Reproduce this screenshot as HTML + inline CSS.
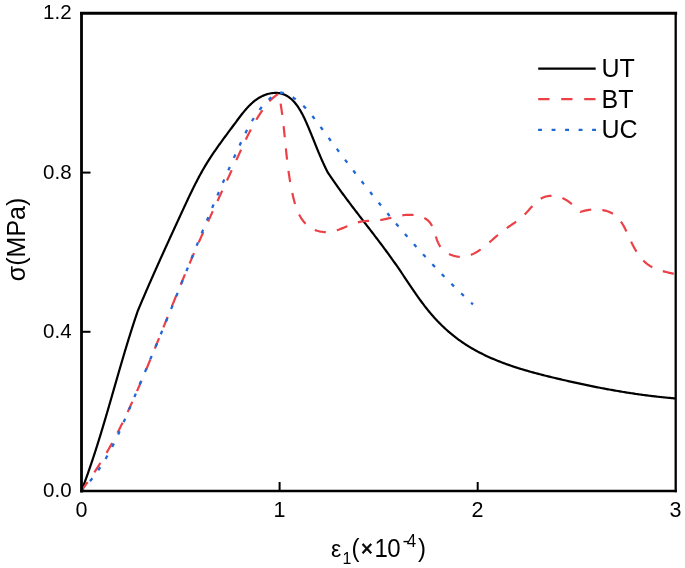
<!DOCTYPE html>
<html><head><meta charset="utf-8"><style>html,body{margin:0;padding:0;background:#fff;overflow:hidden}svg{display:block}</style></head>
<body><svg width="685" height="568" viewBox="0 0 685 568">
<rect width="685" height="568" fill="#fff"/>
<g fill="none" stroke-linejoin="round">
<path d="M81.60,490.50 L82.03,489.37 L82.46,488.25 L82.88,487.12 L83.31,485.99 L83.73,484.86 L84.15,483.73 L84.57,482.60 L84.98,481.47 L85.39,480.33 L85.81,479.20 L86.22,478.06 L86.62,476.93 L87.03,475.79 L87.43,474.65 L87.84,473.51 L88.24,472.37 L88.64,471.23 L89.03,470.09 L89.43,468.95 L89.82,467.81 L90.21,466.67 L90.60,465.52 L90.99,464.38 L91.38,463.23 L91.77,462.09 L92.15,460.94 L92.53,459.79 L92.91,458.64 L93.29,457.49 L93.67,456.34 L94.05,455.19 L94.42,454.04 L94.80,452.89 L95.17,451.74 L95.54,450.59 L95.91,449.43 L96.28,448.28 L96.65,447.13 L97.01,445.97 L97.38,444.82 L97.74,443.66 L98.10,442.50 L98.46,441.35 L98.83,440.19 L99.18,439.03 L99.54,437.87 L99.90,436.71 L100.26,435.55 L100.61,434.39 L100.97,433.23 L101.32,432.07 L101.67,430.91 L102.02,429.75 L102.37,428.59 L102.72,427.43 L103.07,426.26 L103.42,425.10 L103.77,423.94 L104.11,422.77 L104.46,421.61 L104.81,420.44 L105.15,419.28 L105.49,418.11 L105.84,416.95 L106.18,415.78 L106.52,414.62 L106.86,413.45 L107.21,412.28 L107.55,411.12 L107.89,409.95 L108.23,408.78 L108.57,407.62 L108.90,406.45 L109.24,405.28 L109.58,404.11 L109.92,402.94 L110.26,401.78 L110.59,400.61 L110.93,399.44 L111.27,398.27 L111.61,397.10 L111.94,395.93 L112.28,394.77 L112.61,393.60 L112.95,392.43 L113.29,391.26 L113.62,390.09 L113.96,388.92 L114.29,387.75 L114.63,386.58 L114.97,385.41 L115.30,384.24 L115.64,383.08 L115.98,381.91 L116.31,380.74 L116.65,379.57 L116.99,378.40 L117.32,377.23 L117.66,376.06 L118.00,374.89 L118.34,373.73 L118.67,372.56 L119.01,371.39 L119.35,370.22 L119.69,369.05 L120.03,367.89 L120.37,366.72 L120.71,365.55 L121.05,364.38 L121.39,363.22 L121.74,362.05 L122.08,360.88 L122.42,359.72 L122.77,358.55 L123.11,357.39 L123.46,356.22 L123.80,355.05 L124.15,353.89 L124.50,352.73 L124.84,351.56 L125.19,350.40 L125.54,349.23 L125.89,348.07 L126.25,346.91 L126.60,345.75 L126.95,344.58 L127.31,343.42 L127.66,342.26 L128.02,341.10 L128.37,339.94 L128.73,338.78 L129.09,337.62 L129.45,336.46 L129.81,335.30 L130.18,334.14 L130.54,332.99 L130.90,331.83 L131.27,330.67 L131.64,329.52 L132.01,328.36 L132.38,327.21 L132.75,326.05 L133.12,324.90 L133.49,323.74 L133.87,322.59 L134.25,321.44 L134.62,320.29 L135.00,319.14 L135.38,317.99 L135.77,316.84 L136.15,315.69 L136.54,314.54 L136.92,313.39 L137.31,312.25 L137.70,311.10 L138.17,309.98 L138.64,308.86 L139.11,307.74 L139.58,306.62 L140.06,305.50 L140.53,304.38 L141.00,303.26 L141.48,302.15 L141.95,301.03 L142.42,299.92 L142.90,298.81 L143.38,297.70 L143.85,296.58 L144.33,295.47 L144.81,294.36 L145.28,293.26 L145.76,292.15 L146.24,291.04 L146.72,289.93 L147.20,288.83 L147.68,287.72 L148.16,286.62 L148.64,285.51 L149.13,284.41 L149.61,283.31 L150.09,282.21 L150.58,281.10 L151.06,280.00 L151.54,278.90 L152.03,277.80 L152.51,276.70 L153.00,275.61 L153.49,274.51 L153.97,273.41 L154.46,272.31 L154.95,271.21 L155.44,270.12 L155.92,269.02 L156.41,267.93 L156.90,266.83 L157.39,265.73 L157.88,264.64 L158.37,263.54 L158.87,262.45 L159.36,261.36 L159.85,260.26 L160.34,259.17 L160.84,258.07 L161.33,256.98 L161.82,255.89 L162.32,254.80 L162.81,253.70 L163.31,252.61 L163.80,251.52 L164.30,250.42 L164.80,249.33 L165.29,248.24 L165.79,247.15 L166.29,246.05 L166.79,244.96 L167.28,243.87 L167.78,242.77 L168.28,241.68 L168.78,240.59 L169.28,239.50 L169.78,238.40 L170.28,237.31 L170.78,236.22 L171.29,235.12 L171.79,234.03 L172.29,232.93 L172.79,231.84 L173.30,230.74 L173.80,229.65 L174.30,228.55 L174.81,227.46 L175.31,226.36 L175.82,225.27 L176.32,224.17 L176.83,223.07 L177.33,221.97 L177.84,220.88 L178.35,219.78 L178.85,218.68 L179.36,217.58 L179.87,216.48 L180.38,215.38 L180.88,214.28 L181.39,213.18 L181.90,212.07 L182.41,210.97 L182.92,209.87 L183.43,208.76 L183.94,207.66 L184.45,206.55 L184.97,205.45 L185.48,204.35 L185.99,203.24 L186.51,202.14 L187.02,201.04 L187.54,199.93 L188.06,198.83 L188.58,197.73 L189.10,196.63 L189.63,195.53 L190.15,194.43 L190.68,193.34 L191.21,192.24 L191.74,191.15 L192.27,190.05 L192.81,188.96 L193.34,187.87 L193.88,186.79 L194.43,185.70 L194.97,184.62 L195.52,183.54 L196.07,182.46 L196.63,181.39 L197.18,180.32 L197.74,179.25 L198.30,178.18 L198.87,177.11 L199.44,176.05 L200.01,175.00 L200.59,173.94 L201.17,172.89 L201.75,171.85 L202.34,170.80 L202.93,169.76 L203.53,168.73 L204.13,167.70 L204.73,166.67 L205.34,165.65 L205.95,164.63 L206.57,163.61 L207.19,162.61 L207.82,161.60 L208.45,160.60 L209.08,159.60 L209.72,158.61 L210.37,157.62 L211.01,156.63 L211.66,155.64 L212.32,154.66 L212.98,153.68 L213.64,152.71 L214.30,151.73 L214.97,150.76 L215.65,149.79 L216.32,148.82 L217.00,147.85 L217.68,146.88 L218.37,145.92 L219.06,144.95 L219.75,143.99 L220.45,143.02 L221.14,142.06 L221.84,141.10 L222.55,140.13 L223.25,139.17 L223.96,138.20 L224.67,137.24 L225.39,136.27 L226.10,135.30 L226.82,134.33 L227.54,133.36 L228.27,132.39 L228.99,131.42 L229.72,130.44 L230.45,129.46 L231.18,128.48 L231.91,127.50 L232.64,126.51 L233.38,125.52 L234.12,124.53 L234.86,123.53 L235.60,122.53 L236.34,121.53 L237.08,120.52 L237.83,119.52 L238.58,118.51 L239.34,117.51 L240.10,116.51 L240.86,115.52 L241.63,114.53 L242.41,113.55 L243.19,112.58 L243.98,111.61 L244.78,110.66 L245.59,109.72 L246.41,108.79 L247.23,107.87 L248.07,106.97 L248.91,106.09 L249.77,105.22 L250.64,104.38 L251.52,103.55 L252.41,102.74 L253.32,101.96 L254.24,101.20 L255.17,100.47 L256.12,99.76 L257.09,99.08 L258.07,98.43 L259.06,97.80 L260.08,97.21 L261.11,96.65 L262.16,96.12 L263.23,95.63 L264.31,95.17 L265.42,94.75 L266.54,94.37 L267.68,94.03 L268.83,93.73 L269.98,93.48 L271.15,93.27 L272.31,93.11 L273.48,92.99 L274.64,92.93 L275.80,92.92 L276.96,92.96 L278.10,93.05 L279.23,93.20 L280.35,93.41 L281.45,93.67 L282.54,93.98 L283.60,94.35 L284.64,94.76 L285.65,95.23 L286.64,95.75 L287.61,96.31 L288.55,96.92 L289.47,97.58 L290.36,98.27 L291.24,99.01 L292.09,99.79 L292.92,100.60 L293.74,101.45 L294.53,102.33 L295.30,103.25 L296.05,104.19 L296.79,105.16 L297.51,106.16 L298.21,107.18 L298.89,108.23 L299.56,109.29 L300.22,110.38 L300.86,111.48 L301.48,112.59 L302.09,113.72 L302.69,114.86 L303.27,116.02 L303.85,117.17 L304.41,118.34 L304.96,119.51 L305.50,120.68 L306.03,121.86 L306.55,123.03 L307.06,124.20 L307.56,125.37 L308.06,126.52 L308.54,127.68 L309.02,128.82 L309.50,129.96 L309.97,131.09 L310.43,132.21 L310.89,133.33 L311.34,134.45 L311.79,135.55 L312.24,136.66 L312.68,137.76 L313.12,138.85 L313.56,139.94 L314.00,141.03 L314.43,142.11 L314.87,143.20 L315.30,144.28 L315.73,145.35 L316.17,146.43 L316.60,147.50 L317.04,148.58 L317.48,149.65 L317.92,150.72 L318.36,151.80 L318.81,152.87 L319.26,153.95 L319.71,155.02 L320.17,156.10 L320.63,157.18 L321.10,158.26 L321.58,159.35 L322.06,160.43 L322.55,161.53 L323.04,162.62 L323.55,163.72 L324.06,164.82 L324.58,165.93 L325.10,167.04 L325.64,168.16 L326.19,169.29 L326.75,170.42 L327.32,171.56 L327.90,172.70 L328.58,173.71 L329.26,174.72 L329.94,175.72 L330.62,176.73 L331.31,177.73 L332.00,178.73 L332.69,179.73 L333.38,180.72 L334.07,181.72 L334.77,182.71 L335.47,183.70 L336.16,184.68 L336.87,185.67 L337.57,186.65 L338.27,187.64 L338.98,188.62 L339.69,189.60 L340.40,190.58 L341.11,191.55 L341.82,192.53 L342.53,193.50 L343.25,194.47 L343.96,195.44 L344.68,196.41 L345.40,197.38 L346.12,198.35 L346.84,199.31 L347.56,200.28 L348.28,201.24 L349.01,202.20 L349.73,203.17 L350.46,204.13 L351.18,205.09 L351.91,206.05 L352.64,207.00 L353.37,207.96 L354.10,208.92 L354.83,209.87 L355.56,210.83 L356.29,211.78 L357.02,212.74 L357.75,213.69 L358.49,214.65 L359.22,215.60 L359.95,216.55 L360.69,217.50 L361.42,218.46 L362.15,219.41 L362.89,220.36 L363.62,221.31 L364.36,222.26 L365.09,223.21 L365.82,224.17 L366.56,225.12 L367.29,226.07 L368.03,227.02 L368.76,227.97 L369.49,228.93 L370.23,229.88 L370.96,230.83 L371.69,231.78 L372.42,232.74 L373.16,233.69 L373.89,234.65 L374.62,235.60 L375.35,236.56 L376.08,237.51 L376.80,238.47 L377.53,239.43 L378.26,240.39 L378.98,241.35 L379.71,242.31 L380.43,243.27 L381.16,244.23 L381.88,245.19 L382.60,246.16 L383.32,247.12 L384.04,248.09 L384.76,249.06 L385.48,250.03 L386.19,251.00 L386.91,251.97 L387.62,252.94 L388.33,253.91 L389.04,254.89 L389.75,255.87 L390.45,256.85 L391.16,257.83 L391.86,258.81 L392.57,259.79 L393.27,260.78 L393.96,261.76 L394.66,262.75 L395.36,263.74 L396.05,264.73 L396.74,265.73 L397.43,266.72 L398.12,267.72 L398.80,268.72 L399.49,269.72 L400.17,270.73 L400.85,271.73 L401.53,272.74 L402.21,273.75 L402.88,274.75 L403.56,275.76 L404.24,276.77 L404.91,277.78 L405.59,278.79 L406.27,279.80 L406.94,280.81 L407.62,281.82 L408.30,282.83 L408.97,283.84 L409.65,284.85 L410.33,285.86 L411.01,286.86 L411.69,287.87 L412.37,288.87 L413.06,289.88 L413.74,290.88 L414.43,291.88 L415.12,292.88 L415.81,293.87 L416.51,294.87 L417.21,295.86 L417.91,296.85 L418.61,297.83 L419.31,298.81 L420.02,299.79 L420.74,300.77 L421.45,301.75 L422.17,302.72 L422.89,303.68 L423.62,304.65 L424.35,305.60 L425.09,306.56 L425.83,307.51 L426.58,308.46 L427.33,309.40 L428.08,310.34 L428.84,311.27 L429.61,312.20 L430.38,313.12 L431.15,314.03 L431.94,314.95 L432.73,315.85 L433.52,316.75 L434.32,317.65 L435.13,318.53 L435.94,319.42 L436.76,320.29 L437.58,321.16 L438.42,322.02 L439.25,322.88 L440.10,323.73 L440.95,324.58 L441.80,325.42 L442.66,326.25 L443.53,327.07 L444.40,327.89 L445.28,328.70 L446.16,329.51 L447.05,330.30 L447.95,331.09 L448.85,331.88 L449.76,332.66 L450.67,333.42 L451.59,334.19 L452.51,334.94 L453.44,335.69 L454.38,336.43 L455.32,337.16 L456.27,337.89 L457.22,338.61 L458.18,339.32 L459.14,340.02 L460.11,340.72 L461.08,341.40 L462.06,342.08 L463.04,342.75 L464.03,343.42 L465.02,344.07 L466.02,344.72 L467.03,345.36 L468.04,345.99 L469.05,346.62 L470.07,347.23 L471.09,347.84 L472.12,348.45 L473.15,349.04 L474.19,349.63 L475.23,350.21 L476.28,350.79 L477.33,351.35 L478.38,351.91 L479.44,352.47 L480.50,353.01 L481.57,353.56 L482.64,354.09 L483.72,354.62 L484.79,355.14 L485.88,355.65 L486.96,356.16 L488.05,356.67 L489.15,357.16 L490.24,357.65 L491.34,358.14 L492.45,358.62 L493.55,359.09 L494.66,359.56 L495.78,360.02 L496.89,360.48 L498.01,360.93 L499.13,361.37 L500.26,361.82 L501.39,362.25 L502.52,362.68 L503.65,363.11 L504.79,363.53 L505.93,363.94 L507.07,364.35 L508.21,364.76 L509.36,365.16 L510.51,365.56 L511.66,365.95 L512.81,366.34 L513.96,366.72 L515.12,367.10 L516.28,367.48 L517.44,367.85 L518.60,368.22 L519.76,368.58 L520.93,368.94 L522.10,369.30 L523.27,369.65 L524.44,370.00 L525.61,370.34 L526.78,370.68 L527.95,371.02 L529.13,371.36 L530.31,371.69 L531.48,372.02 L532.66,372.34 L533.84,372.66 L535.02,372.98 L536.20,373.30 L537.38,373.61 L538.57,373.93 L539.75,374.23 L540.93,374.54 L542.11,374.84 L543.30,375.15 L544.48,375.45 L545.67,375.74 L546.85,376.04 L548.04,376.33 L549.22,376.62 L550.41,376.91 L551.59,377.20 L552.78,377.48 L553.96,377.77 L555.14,378.05 L556.33,378.33 L557.51,378.61 L558.69,378.89 L559.88,379.16 L561.06,379.44 L562.24,379.71 L563.42,379.99 L564.60,380.26 L565.78,380.53 L566.96,380.80 L568.13,381.07 L569.31,381.33 L570.49,381.60 L571.67,381.86 L572.84,382.12 L574.02,382.38 L575.19,382.64 L576.37,382.90 L577.55,383.16 L578.72,383.41 L579.89,383.67 L581.07,383.92 L582.24,384.17 L583.42,384.42 L584.59,384.67 L585.77,384.92 L586.94,385.16 L588.11,385.41 L589.29,385.65 L590.46,385.89 L591.63,386.13 L592.81,386.37 L593.98,386.60 L595.15,386.84 L596.33,387.07 L597.50,387.30 L598.67,387.53 L599.85,387.76 L601.02,387.99 L602.20,388.21 L603.37,388.44 L604.54,388.66 L605.72,388.88 L606.89,389.10 L608.07,389.31 L609.25,389.53 L610.42,389.74 L611.60,389.95 L612.77,390.16 L613.95,390.37 L615.13,390.58 L616.31,390.78 L617.48,390.98 L618.66,391.18 L619.84,391.38 L621.02,391.58 L622.20,391.78 L623.38,391.97 L624.56,392.16 L625.75,392.35 L626.93,392.54 L628.11,392.73 L629.30,392.91 L630.48,393.09 L631.67,393.27 L632.85,393.45 L634.04,393.63 L635.23,393.80 L636.42,393.98 L637.60,394.15 L638.80,394.32 L639.99,394.48 L641.18,394.65 L642.37,394.81 L643.56,394.97 L644.76,395.13 L645.95,395.29 L647.15,395.44 L648.35,395.59 L649.55,395.74 L650.75,395.89 L651.95,396.04 L653.15,396.18 L654.35,396.32 L655.56,396.46 L656.76,396.60 L657.97,396.74 L659.18,396.87 L660.39,397.00 L661.60,397.13 L662.81,397.26 L664.02,397.38 L665.24,397.50 L666.45,397.62 L667.67,397.74 L668.89,397.86 L670.11,397.97 L671.33,398.08 L672.55,398.19 L673.78,398.30 L675.00,398.40" stroke="#000" stroke-width="2.2"/>
<path d="M81.60,490.50 L82.30,489.54 L83.00,488.58 L83.70,487.62 L84.40,486.65 L85.09,485.68 L85.79,484.71 L86.48,483.73 L87.17,482.76 L87.86,481.78 L88.55,480.80 L89.23,479.81 L89.91,478.82 L90.60,477.83 L91.28,476.84 L91.95,475.85 L92.63,474.85 L93.30,473.85 L93.97,472.85 L94.64,471.85 L95.31,470.84 L95.97,469.84 L96.63,468.83 L97.29,467.82 L97.94,466.80 L98.60,465.79 L99.25,464.77 L99.89,463.75 L100.54,462.72 L101.18,461.70 L101.82,460.67 L102.45,459.65 L103.08,458.62 L103.71,457.58 L104.34,456.55 L104.96,455.51 L105.58,454.48 L106.19,453.44 L106.80,452.40 L107.41,451.35 L108.01,450.31 L108.61,449.26 L109.21,448.21 L109.81,447.16 L110.40,446.11 L110.98,445.06 L111.57,444.00 L112.15,442.95 L112.72,441.89 L113.30,440.83 L113.87,439.77 L114.44,438.71 L115.00,437.64 L115.56,436.58 L116.12,435.51 L116.68,434.44 L117.23,433.37 L117.78,432.30 L118.33,431.23 L118.87,430.16 L119.42,429.08 L119.96,428.01 L120.49,426.93 L121.03,425.85 L121.56,424.77 L122.09,423.69 L122.62,422.61 L123.14,421.53 L123.67,420.44 L124.19,419.36 L124.71,418.27 L125.22,417.19 L125.74,416.10 L126.25,415.01 L126.76,413.92 L127.27,412.83 L127.78,411.74 L128.28,410.65 L128.79,409.55 L129.29,408.46 L129.79,407.36 L130.29,406.27 L130.78,405.17 L131.28,404.08 L131.77,402.98 L132.27,401.88 L132.76,400.78 L133.25,399.68 L133.74,398.58 L134.22,397.48 L134.71,396.38 L135.19,395.28 L135.68,394.18 L136.16,393.07 L136.64,391.97 L137.12,390.87 L137.60,389.76 L138.08,388.66 L138.56,387.55 L139.04,386.45 L139.51,385.34 L139.99,384.24 L140.46,383.13 L140.93,382.02 L141.41,380.92 L141.88,379.81 L142.35,378.70 L142.82,377.59 L143.29,376.48 L143.76,375.37 L144.22,374.27 L144.69,373.16 L145.16,372.04 L145.62,370.93 L146.08,369.82 L146.55,368.71 L147.01,367.60 L147.47,366.49 L147.94,365.38 L148.40,364.26 L148.86,363.15 L149.32,362.04 L149.78,360.92 L150.23,359.81 L150.69,358.70 L151.15,357.58 L151.61,356.47 L152.06,355.35 L152.52,354.24 L152.98,353.12 L153.43,352.01 L153.89,350.89 L154.34,349.78 L154.79,348.66 L155.25,347.55 L155.70,346.43 L156.15,345.31 L156.61,344.20 L157.06,343.08 L157.51,341.96 L157.96,340.85 L158.42,339.73 L158.87,338.61 L159.32,337.49 L159.77,336.38 L160.22,335.26 L160.67,334.14 L161.12,333.02 L161.57,331.91 L162.02,330.79 L162.47,329.67 L162.92,328.55 L163.37,327.43 L163.82,326.31 L164.27,325.20 L164.72,324.08 L165.17,322.96 L165.62,321.84 L166.07,320.72 L166.52,319.60 L166.97,318.48 L167.42,317.37 L167.87,316.25 L168.32,315.13 L168.77,314.01 L169.22,312.89 L169.67,311.77 L170.12,310.65 L170.57,309.54 L171.02,308.42 L171.47,307.30 L171.93,306.18 L172.38,305.06 L172.83,303.94 L173.28,302.83 L173.74,301.71 L174.19,300.59 L174.64,299.47 L175.10,298.36 L175.55,297.24 L176.01,296.12 L176.46,295.00 L176.92,293.89 L177.37,292.77 L177.83,291.65 L178.29,290.54 L178.74,289.42 L179.20,288.30 L179.66,287.19 L180.12,286.07 L180.58,284.96 L181.04,283.84 L181.50,282.73 L181.96,281.61 L182.42,280.50 L182.89,279.38 L183.35,278.27 L183.82,277.15 L184.28,276.04 L184.75,274.93 L185.21,273.81 L185.68,272.70 L186.15,271.59 L186.62,270.47 L187.09,269.36 L187.56,268.25 L188.03,267.14 L188.50,266.03 L188.97,264.92 L189.45,263.80 L189.92,262.69 L190.39,261.58 L190.87,260.47 L191.35,259.37 L191.82,258.26 L192.30,257.15 L192.78,256.04 L193.26,254.93 L193.74,253.82 L194.22,252.72 L194.70,251.61 L195.19,250.50 L195.67,249.40 L196.15,248.29 L196.64,247.18 L197.12,246.08 L197.61,244.97 L198.09,243.87 L198.58,242.77 L199.07,241.66 L199.56,240.56 L200.05,239.46 L200.54,238.35 L201.03,237.25 L201.52,236.15 L202.01,235.05 L202.50,233.95 L202.99,232.85 L203.48,231.74 L203.98,230.64 L204.47,229.55 L204.96,228.45 L205.46,227.35 L205.95,226.25 L206.45,225.15 L206.95,224.05 L207.44,222.96 L207.94,221.86 L208.44,220.76 L208.93,219.67 L209.43,218.57 L209.93,217.48 L210.43,216.38 L210.93,215.29 L211.43,214.20 L211.93,213.10 L212.43,212.01 L212.93,210.92 L213.43,209.83 L213.94,208.73 L214.44,207.64 L214.94,206.55 L215.44,205.46 L215.95,204.37 L216.45,203.28 L216.95,202.19 L217.46,201.10 L217.96,200.01 L218.46,198.92 L218.97,197.83 L219.47,196.74 L219.98,195.65 L220.48,194.57 L220.99,193.48 L221.49,192.39 L222.00,191.30 L222.50,190.21 L223.01,189.12 L223.51,188.03 L224.02,186.94 L224.52,185.85 L225.03,184.76 L225.53,183.67 L226.04,182.57 L226.54,181.48 L227.05,180.39 L227.55,179.30 L228.06,178.21 L228.56,177.11 L229.07,176.02 L229.57,174.93 L230.08,173.83 L230.58,172.74 L231.09,171.64 L231.59,170.54 L232.09,169.45 L232.60,168.35 L233.10,167.25 L233.61,166.15 L234.11,165.05 L234.61,163.95 L235.11,162.85 L235.62,161.74 L236.12,160.64 L236.62,159.53 L237.12,158.43 L237.62,157.32 L238.12,156.22 L238.62,155.11 L239.13,154.00 L239.63,152.89 L240.13,151.79 L240.64,150.68 L241.14,149.57 L241.65,148.47 L242.16,147.36 L242.67,146.26 L243.18,145.15 L243.69,144.05 L244.21,142.95 L244.73,141.85 L245.25,140.75 L245.77,139.66 L246.30,138.56 L246.83,137.47 L247.36,136.38 L247.90,135.29 L248.44,134.21 L248.98,133.13 L249.53,132.05 L250.08,130.97 L250.64,129.90 L251.20,128.83 L251.77,127.77 L252.34,126.70 L252.91,125.65 L253.50,124.59 L254.08,123.54 L254.67,122.50 L255.27,121.46 L255.88,120.42 L256.49,119.39 L257.10,118.36 L257.73,117.34 L258.36,116.33 L258.99,115.32 L259.63,114.31 L260.29,113.31 L260.94,112.32 L261.61,111.33 L262.28,110.35 L262.96,109.38 L263.65,108.41 L264.35,107.45 L265.06,106.51 L265.78,105.57 L266.52,104.64 L267.27,103.73 L268.03,102.83 L268.81,101.94 L269.61,101.08 L270.43,100.23 L271.26,99.40 L272.12,98.59 L273.00,97.80 L273.90,97.04 L274.83,96.30 L275.78,95.58 L276.76,94.89 L277.76,94.23 L278.80,93.60 L279.04,94.83 L279.28,96.06 L279.51,97.29 L279.73,98.51 L279.95,99.74 L280.16,100.95 L280.37,102.17 L280.57,103.38 L280.77,104.60 L280.96,105.80 L281.14,107.01 L281.32,108.22 L281.50,109.42 L281.67,110.62 L281.84,111.82 L282.01,113.01 L282.17,114.21 L282.33,115.40 L282.48,116.59 L282.63,117.78 L282.78,118.97 L282.92,120.16 L283.06,121.34 L283.20,122.53 L283.34,123.71 L283.47,124.89 L283.60,126.07 L283.73,127.25 L283.85,128.43 L283.98,129.61 L284.10,130.78 L284.23,131.96 L284.35,133.14 L284.47,134.31 L284.58,135.48 L284.70,136.66 L284.82,137.83 L284.94,139.01 L285.05,140.18 L285.17,141.35 L285.28,142.53 L285.40,143.70 L285.52,144.87 L285.63,146.05 L285.75,147.22 L285.87,148.40 L285.99,149.57 L286.11,150.75 L286.23,151.92 L286.35,153.10 L286.48,154.28 L286.60,155.46 L286.73,156.64 L286.86,157.82 L286.99,159.00 L287.13,160.18 L287.27,161.36 L287.40,162.55 L287.55,163.73 L287.69,164.92 L287.84,166.11 L288.00,167.30 L288.15,168.49 L288.31,169.69 L288.47,170.89 L288.64,172.08 L288.81,173.28 L288.99,174.48 L289.17,175.69 L289.35,176.89 L289.54,178.10 L289.74,179.31 L289.94,180.53 L290.14,181.74 L290.35,182.96 L290.57,184.18 L290.79,185.41 L291.02,186.63 L291.25,187.86 L291.49,189.09 L291.74,190.33 L291.99,191.57 L292.25,192.81 L292.52,194.05 L292.79,195.29 L293.08,196.53 L293.37,197.77 L293.68,199.01 L294.00,200.24 L294.33,201.46 L294.68,202.68 L295.03,203.89 L295.41,205.09 L295.80,206.28 L296.20,207.45 L296.62,208.62 L297.06,209.77 L297.52,210.90 L298.00,212.02 L298.50,213.11 L299.02,214.19 L299.56,215.25 L300.13,216.29 L300.72,217.31 L301.33,218.30 L301.96,219.26 L302.63,220.20 L303.32,221.12 L304.03,222.00 L304.78,222.85 L305.55,223.68 L306.36,224.47 L307.19,225.22 L308.05,225.95 L308.95,226.63 L309.88,227.28 L310.84,227.89 L311.83,228.46 L312.85,229.00 L313.90,229.49 L314.97,229.94 L316.05,230.36 L317.16,230.73 L318.29,231.05 L319.43,231.34 L320.58,231.58 L321.74,231.78 L322.91,231.94 L324.09,232.05 L325.26,232.11 L326.45,232.13 L327.63,232.10 L328.80,232.02 L329.98,231.90 L331.14,231.73 L332.31,231.51 L333.46,231.26 L334.61,230.96 L335.76,230.63 L336.90,230.27 L338.04,229.89 L339.18,229.48 L340.31,229.04 L341.44,228.60 L342.58,228.14 L343.71,227.66 L344.84,227.18 L345.97,226.70 L347.11,226.22 L348.24,225.74 L349.38,225.27 L350.52,224.81 L351.66,224.36 L352.81,223.93 L353.97,223.52 L355.12,223.13 L356.29,222.77 L357.46,222.44 L358.63,222.15 L359.82,221.89 L361.01,221.67 L362.21,221.48 L363.41,221.31 L364.61,221.17 L365.82,221.06 L367.04,220.95 L368.25,220.87 L369.47,220.79 L370.68,220.72 L371.90,220.65 L373.11,220.58 L374.32,220.51 L375.53,220.43 L376.74,220.35 L377.94,220.25 L379.14,220.13 L380.33,219.99 L381.52,219.82 L382.69,219.64 L383.87,219.43 L385.03,219.20 L386.20,218.95 L387.36,218.70 L388.51,218.43 L389.67,218.15 L390.82,217.87 L391.98,217.58 L393.13,217.30 L394.29,217.01 L395.45,216.73 L396.61,216.46 L397.78,216.20 L398.95,215.96 L400.13,215.73 L401.32,215.52 L402.51,215.33 L403.71,215.16 L404.92,215.02 L406.14,214.91 L407.37,214.84 L408.61,214.79 L409.87,214.79 L411.13,214.82 L412.40,214.90 L413.66,215.01 L414.93,215.17 L416.18,215.37 L417.43,215.61 L418.65,215.90 L419.86,216.24 L421.03,216.62 L422.18,217.05 L423.29,217.53 L424.36,218.06 L425.39,218.64 L426.37,219.27 L427.30,219.96 L428.17,220.70 L428.98,221.49 L429.72,222.34 L430.41,223.24 L431.04,224.19 L431.62,225.18 L432.15,226.21 L432.65,227.28 L433.11,228.38 L433.55,229.50 L433.96,230.64 L434.35,231.80 L434.73,232.98 L435.11,234.16 L435.48,235.35 L435.86,236.55 L436.24,237.73 L436.64,238.91 L437.06,240.08 L437.51,241.23 L437.99,242.37 L438.50,243.47 L439.05,244.55 L439.65,245.60 L440.30,246.60 L441.00,247.57 L441.77,248.49 L442.59,249.37 L443.46,250.20 L444.38,250.99 L445.34,251.73 L446.34,252.42 L447.38,253.07 L448.45,253.66 L449.54,254.21 L450.66,254.71 L451.80,255.15 L452.96,255.55 L454.12,255.89 L455.30,256.18 L456.48,256.42 L457.66,256.61 L458.84,256.74 L460.01,256.81 L461.17,256.84 L462.31,256.80 L463.45,256.72 L464.57,256.58 L465.68,256.40 L466.79,256.16 L467.88,255.89 L468.96,255.57 L470.03,255.20 L471.10,254.80 L472.15,254.36 L473.20,253.88 L474.23,253.37 L475.26,252.82 L476.29,252.24 L477.30,251.64 L478.31,251.00 L479.31,250.34 L480.31,249.66 L481.30,248.95 L482.28,248.23 L483.26,247.48 L484.24,246.72 L485.21,245.94 L486.18,245.15 L487.14,244.34 L488.10,243.53 L489.06,242.71 L490.01,241.88 L490.96,241.04 L491.92,240.21 L492.87,239.37 L493.81,238.53 L494.76,237.70 L495.71,236.87 L496.66,236.04 L497.60,235.23 L498.55,234.42 L499.50,233.62 L500.45,232.84 L501.41,232.07 L502.36,231.32 L503.32,230.58 L504.28,229.87 L505.24,229.17 L506.20,228.48 L507.16,227.80 L508.13,227.14 L509.09,226.48 L510.05,225.82 L511.01,225.17 L511.97,224.52 L512.92,223.87 L513.87,223.22 L514.82,222.55 L515.76,221.89 L516.70,221.21 L517.63,220.52 L518.56,219.82 L519.48,219.10 L520.39,218.37 L521.30,217.61 L522.19,216.83 L523.08,216.03 L523.96,215.20 L524.82,214.35 L525.68,213.47 L526.53,212.56 L527.38,211.63 L528.22,210.70 L529.06,209.75 L529.89,208.80 L530.73,207.85 L531.58,206.90 L532.43,205.97 L533.29,205.05 L534.15,204.14 L535.03,203.27 L535.92,202.42 L536.83,201.60 L537.75,200.83 L538.70,200.09 L539.66,199.41 L540.65,198.77 L541.66,198.20 L542.70,197.68 L543.77,197.23 L544.85,196.84 L545.96,196.52 L547.09,196.25 L548.24,196.04 L549.39,195.90 L550.56,195.81 L551.74,195.78 L552.92,195.81 L554.10,195.89 L555.29,196.03 L556.47,196.22 L557.65,196.46 L558.82,196.76 L559.97,197.11 L561.12,197.51 L562.25,197.96 L563.36,198.46 L564.45,199.01 L565.52,199.60 L566.58,200.23 L567.61,200.90 L568.62,201.61 L569.62,202.34 L570.60,203.09 L571.56,203.87 L572.51,204.66 L573.45,205.47 L574.37,206.28 L575.28,207.10 L576.18,207.92 L577.06,208.74 L577.93,209.55 L578.80,210.35 L579.65,211.13 L580.50,211.90 L581.61,211.53 L582.76,211.19 L583.93,210.88 L585.12,210.60 L586.33,210.35 L587.56,210.12 L588.81,209.93 L590.07,209.77 L591.33,209.65 L592.61,209.55 L593.89,209.49 L595.18,209.47 L596.46,209.48 L597.74,209.53 L599.02,209.61 L600.28,209.73 L601.54,209.89 L602.78,210.09 L604.01,210.33 L605.21,210.61 L606.40,210.93 L607.56,211.29 L608.70,211.70 L609.80,212.14 L610.88,212.63 L611.92,213.17 L612.92,213.75 L613.88,214.38 L614.81,215.05 L615.69,215.76 L616.55,216.51 L617.37,217.30 L618.16,218.13 L618.92,218.99 L619.65,219.88 L620.36,220.81 L621.04,221.76 L621.70,222.74 L622.33,223.75 L622.95,224.77 L623.55,225.82 L624.14,226.89 L624.71,227.97 L625.27,229.07 L625.81,230.19 L626.35,231.31 L626.88,232.44 L627.41,233.58 L627.93,234.73 L628.45,235.88 L628.97,237.03 L629.49,238.18 L630.02,239.33 L630.55,240.47 L631.08,241.61 L631.63,242.74 L632.18,243.86 L632.74,244.98 L633.31,246.08 L633.89,247.17 L634.48,248.25 L635.09,249.32 L635.71,250.37 L636.34,251.41 L636.98,252.43 L637.64,253.44 L638.32,254.42 L639.02,255.39 L639.73,256.34 L640.46,257.27 L641.21,258.18 L641.98,259.06 L642.77,259.92 L643.58,260.76 L644.42,261.57 L645.28,262.35 L646.16,263.11 L647.06,263.84 L648.00,264.54 L648.96,265.21 L649.94,265.85 L650.95,266.45 L652.00,267.03 L653.07,267.57 L654.16,268.08 L655.28,268.56 L656.41,269.02 L657.57,269.46 L658.74,269.87 L659.92,270.26 L661.12,270.63 L662.33,270.99 L663.55,271.33 L664.77,271.65 L665.99,271.97 L667.22,272.27 L668.45,272.57 L669.67,272.86 L670.89,273.15 L672.10,273.43 L673.31,273.71 L674.50,274.00" stroke="#EC4046" stroke-width="2.2" stroke-dasharray="10.45 11.69 11.30 11.69 11.30 11.69 11.30 11.69 11.30 11.69 11.30 11.69 11.30 11.69 11.30 11.69 11.30 11.69 11.30 11.69 11.30 11.69 11.30 11.69 11.30 11.69 11.30 11.23 11.30 11.23 11.30 11.23 11.30 11.23 11.30 11.23 11.30 11.23 11.30 11.23 11.30 11.23 11.30 11.23 11.30 11.23 11.30 11.23 11.30 11.23 11.30 11.23 11.30 11.23 11.30 11.23 11.30 11.23 11.30 11.23 11.30 11.23 11.30 11.23 11.30 11.23 11.30 11.23 11.30 11.23 11.30 11.23 11.30 11.23 11.30 11.23 11.30 11.23 11.30 11.23 11.30 11.23 11.30 11.23 11.30 11.23 11.30 11.23 11.30 11.23 11.30 50.00"/>
<path d="M81.60,490.50 L82.46,489.62 L83.32,488.73 L84.16,487.84 L85.00,486.94 L85.83,486.04 L86.64,485.13 L87.45,484.22 L88.25,483.30 L89.04,482.37 L89.82,481.45 L90.59,480.51 L91.35,479.57 L92.10,478.63 L92.85,477.68 L93.59,476.72 L94.32,475.77 L95.04,474.80 L95.75,473.83 L96.45,472.86 L97.15,471.88 L97.84,470.90 L98.52,469.92 L99.20,468.93 L99.87,467.93 L100.53,466.94 L101.18,465.93 L101.83,464.93 L102.47,463.92 L103.10,462.91 L103.73,461.89 L104.35,460.87 L104.96,459.84 L105.57,458.82 L106.18,457.79 L106.77,456.75 L107.36,455.71 L107.95,454.67 L108.53,453.63 L109.11,452.58 L109.68,451.53 L110.24,450.48 L110.80,449.42 L111.36,448.37 L111.91,447.30 L112.46,446.24 L113.00,445.17 L113.54,444.11 L114.07,443.03 L114.60,441.96 L115.12,440.89 L115.65,439.81 L116.17,438.73 L116.68,437.65 L117.19,436.56 L117.70,435.48 L118.21,434.39 L118.71,433.30 L119.21,432.21 L119.70,431.12 L120.20,430.02 L120.69,428.93 L121.18,427.83 L121.67,426.73 L122.15,425.63 L122.64,424.53 L123.12,423.43 L123.60,422.33 L124.08,421.23 L124.55,420.12 L125.03,419.02 L125.50,417.91 L125.98,416.81 L126.45,415.70 L126.92,414.59 L127.39,413.48 L127.86,412.38 L128.33,411.27 L128.80,410.16 L129.27,409.05 L129.74,407.94 L130.21,406.83 L130.68,405.72 L131.15,404.62 L131.62,403.51 L132.09,402.40 L132.56,401.29 L133.03,400.18 L133.50,399.07 L133.97,397.96 L134.44,396.85 L134.91,395.74 L135.38,394.64 L135.85,393.53 L136.32,392.42 L136.79,391.31 L137.26,390.20 L137.73,389.09 L138.20,387.98 L138.66,386.87 L139.13,385.76 L139.60,384.65 L140.07,383.54 L140.54,382.43 L141.01,381.32 L141.48,380.22 L141.95,379.11 L142.42,378.00 L142.89,376.89 L143.36,375.78 L143.82,374.67 L144.29,373.56 L144.76,372.45 L145.23,371.34 L145.70,370.23 L146.17,369.12 L146.63,368.01 L147.10,366.90 L147.57,365.79 L148.04,364.68 L148.50,363.57 L148.97,362.46 L149.44,361.35 L149.90,360.23 L150.37,359.12 L150.84,358.01 L151.30,356.90 L151.77,355.79 L152.23,354.68 L152.70,353.57 L153.17,352.46 L153.63,351.35 L154.10,350.24 L154.56,349.12 L155.02,348.01 L155.49,346.90 L155.95,345.79 L156.42,344.68 L156.88,343.57 L157.34,342.45 L157.81,341.34 L158.27,340.23 L158.73,339.12 L159.19,338.01 L159.66,336.89 L160.12,335.78 L160.58,334.67 L161.04,333.56 L161.50,332.44 L161.96,331.33 L162.42,330.22 L162.88,329.10 L163.34,327.99 L163.80,326.88 L164.26,325.76 L164.72,324.65 L165.18,323.54 L165.63,322.42 L166.09,321.31 L166.55,320.20 L167.01,319.08 L167.46,317.97 L167.92,316.85 L168.37,315.74 L168.83,314.62 L169.28,313.51 L169.74,312.39 L170.19,311.28 L170.65,310.16 L171.10,309.05 L171.55,307.93 L172.01,306.82 L172.46,305.70 L172.91,304.59 L173.36,303.47 L173.82,302.36 L174.27,301.24 L174.72,300.12 L175.17,299.01 L175.62,297.89 L176.07,296.78 L176.52,295.66 L176.98,294.54 L177.43,293.43 L177.88,292.31 L178.33,291.20 L178.78,290.08 L179.23,288.96 L179.68,287.85 L180.12,286.73 L180.57,285.61 L181.02,284.50 L181.47,283.38 L181.92,282.26 L182.37,281.15 L182.82,280.03 L183.27,278.91 L183.72,277.80 L184.17,276.68 L184.62,275.56 L185.06,274.45 L185.51,273.33 L185.96,272.21 L186.41,271.10 L186.86,269.98 L187.31,268.86 L187.76,267.75 L188.21,266.63 L188.66,265.51 L189.10,264.40 L189.55,263.28 L190.00,262.16 L190.45,261.05 L190.90,259.93 L191.35,258.81 L191.80,257.70 L192.25,256.58 L192.70,255.46 L193.15,254.35 L193.60,253.23 L194.05,252.12 L194.50,251.00 L194.95,249.88 L195.40,248.77 L195.85,247.65 L196.31,246.54 L196.76,245.42 L197.21,244.31 L197.66,243.19 L198.11,242.08 L198.57,240.96 L199.02,239.84 L199.47,238.73 L199.93,237.61 L200.38,236.50 L200.83,235.38 L201.29,234.27 L201.74,233.16 L202.20,232.04 L202.65,230.93 L203.11,229.81 L203.56,228.70 L204.02,227.58 L204.48,226.47 L204.93,225.36 L205.39,224.24 L205.85,223.13 L206.31,222.02 L206.77,220.90 L207.22,219.79 L207.68,218.68 L208.14,217.57 L208.60,216.45 L209.07,215.34 L209.53,214.23 L209.99,213.12 L210.45,212.01 L210.91,210.89 L211.38,209.78 L211.84,208.67 L212.31,207.56 L212.77,206.45 L213.24,205.34 L213.70,204.23 L214.17,203.12 L214.64,202.01 L215.10,200.90 L215.57,199.79 L216.04,198.68 L216.51,197.57 L216.98,196.46 L217.45,195.35 L217.92,194.24 L218.40,193.14 L218.87,192.03 L219.34,190.92 L219.82,189.81 L220.29,188.71 L220.77,187.60 L221.24,186.49 L221.72,185.38 L222.20,184.28 L222.68,183.17 L223.16,182.07 L223.64,180.96 L224.12,179.86 L224.60,178.75 L225.08,177.65 L225.56,176.54 L226.05,175.44 L226.53,174.33 L227.02,173.23 L227.50,172.13 L227.99,171.02 L228.48,169.92 L228.97,168.82 L229.46,167.72 L229.95,166.61 L230.44,165.51 L230.93,164.41 L231.42,163.31 L231.92,162.21 L232.41,161.11 L232.91,160.01 L233.41,158.91 L233.90,157.81 L234.40,156.71 L234.90,155.61 L235.40,154.52 L235.90,153.42 L236.41,152.32 L236.91,151.22 L237.42,150.13 L237.92,149.03 L238.43,147.93 L238.94,146.84 L239.45,145.74 L239.96,144.65 L240.47,143.55 L240.98,142.46 L241.49,141.37 L242.01,140.27 L242.52,139.18 L243.04,138.09 L243.57,137.00 L244.09,135.92 L244.62,134.83 L245.15,133.75 L245.69,132.67 L246.23,131.59 L246.78,130.52 L247.33,129.44 L247.89,128.38 L248.45,127.31 L249.02,126.25 L249.60,125.20 L250.19,124.15 L250.78,123.10 L251.38,122.06 L251.99,121.03 L252.60,120.00 L253.23,118.98 L253.86,117.96 L254.51,116.95 L255.16,115.94 L255.83,114.95 L256.51,113.96 L257.20,112.97 L257.90,112.00 L258.61,111.03 L259.33,110.07 L260.07,109.12 L260.82,108.18 L261.58,107.25 L262.36,106.32 L263.15,105.41 L263.95,104.50 L264.77,103.61 L265.61,102.72 L266.46,101.85 L267.33,100.99 L268.21,100.13 L269.11,99.29 L270.03,98.46 L270.97,97.65 L271.92,96.85 L272.89,96.10 L273.87,95.39 L274.88,94.73 L275.89,94.15 L276.93,93.65 L277.98,93.24 L279.04,92.94 L280.12,92.76 L281.21,92.70 L282.32,92.79 L283.43,93.00 L284.55,93.31 L285.67,93.71 L286.78,94.17 L287.87,94.67 L288.95,95.20 L290.01,95.75 L291.05,96.33 L292.08,96.93 L293.09,97.55 L294.08,98.20 L295.06,98.87 L296.03,99.56 L296.98,100.27 L297.92,101.00 L298.84,101.75 L299.75,102.52 L300.65,103.30 L301.54,104.10 L302.41,104.92 L303.28,105.76 L304.13,106.60 L304.97,107.47 L305.81,108.34 L306.63,109.23 L307.44,110.13 L308.25,111.04 L309.05,111.96 L309.84,112.89 L310.62,113.83 L311.40,114.78 L312.16,115.74 L312.93,116.70 L313.69,117.67 L314.44,118.65 L315.19,119.62 L315.93,120.61 L316.67,121.59 L317.40,122.58 L318.14,123.57 L318.87,124.57 L319.60,125.56 L320.32,126.55 L321.05,127.54 L321.77,128.53 L322.49,129.52 L323.22,130.51 L323.94,131.49 L324.66,132.47 L325.38,133.45 L326.10,134.43 L326.82,135.41 L327.54,136.38 L328.26,137.36 L328.98,138.33 L329.70,139.30 L330.42,140.27 L331.14,141.24 L331.86,142.20 L332.57,143.17 L333.29,144.13 L334.01,145.10 L334.73,146.06 L335.45,147.02 L336.17,147.98 L336.88,148.94 L337.60,149.90 L338.32,150.85 L339.04,151.81 L339.76,152.77 L340.48,153.72 L341.20,154.68 L341.92,155.63 L342.64,156.58 L343.36,157.54 L344.09,158.49 L344.81,159.44 L345.53,160.39 L346.26,161.35 L346.98,162.30 L347.71,163.25 L348.43,164.20 L349.16,165.15 L349.89,166.10 L350.62,167.05 L351.35,168.00 L352.08,168.95 L352.81,169.90 L353.54,170.85 L354.27,171.80 L355.00,172.75 L355.74,173.70 L356.47,174.65 L357.20,175.59 L357.94,176.54 L358.68,177.49 L359.41,178.43 L360.15,179.38 L360.89,180.33 L361.63,181.27 L362.37,182.22 L363.11,183.16 L363.86,184.11 L364.60,185.05 L365.34,185.99 L366.09,186.94 L366.83,187.88 L367.58,188.82 L368.33,189.76 L369.07,190.71 L369.82,191.65 L370.57,192.59 L371.32,193.53 L372.07,194.47 L372.82,195.41 L373.58,196.34 L374.33,197.28 L375.09,198.22 L375.84,199.16 L376.60,200.09 L377.35,201.03 L378.11,201.96 L378.87,202.90 L379.63,203.83 L380.39,204.77 L381.15,205.70 L381.92,206.63 L382.68,207.56 L383.44,208.49 L384.21,209.42 L384.97,210.35 L385.74,211.28 L386.51,212.21 L387.28,213.14 L388.05,214.07 L388.82,214.99 L389.59,215.92 L390.36,216.84 L391.14,217.77 L391.91,218.69 L392.68,219.61 L393.46,220.54 L394.24,221.46 L395.02,222.38 L395.80,223.30 L396.58,224.22 L397.36,225.14 L398.14,226.05 L398.92,226.97 L399.71,227.89 L400.49,228.80 L401.28,229.72 L402.06,230.63 L402.85,231.54 L403.64,232.45 L404.43,233.36 L405.22,234.27 L406.01,235.18 L406.81,236.09 L407.60,237.00 L408.40,237.91 L409.19,238.81 L409.99,239.72 L410.79,240.62 L411.59,241.52 L412.39,242.43 L413.19,243.33 L413.99,244.23 L414.79,245.13 L415.60,246.03 L416.40,246.92 L417.21,247.82 L418.02,248.72 L418.83,249.61 L419.64,250.50 L420.45,251.40 L421.26,252.29 L422.07,253.18 L422.89,254.07 L423.70,254.95 L424.52,255.84 L425.33,256.73 L426.15,257.61 L426.97,258.50 L427.79,259.38 L428.62,260.26 L429.44,261.14 L430.26,262.02 L431.09,262.90 L431.91,263.78 L432.74,264.65 L433.57,265.53 L434.40,266.40 L435.23,267.28 L436.06,268.15 L436.90,269.02 L437.73,269.89 L438.57,270.76 L439.40,271.62 L440.24,272.49 L441.08,273.35 L441.92,274.22 L442.76,275.08 L443.61,275.94 L444.45,276.80 L445.30,277.66 L446.14,278.51 L446.99,279.37 L447.84,280.22 L448.69,281.08 L449.54,281.93 L450.39,282.78 L451.25,283.63 L452.10,284.47 L452.96,285.32 L453.81,286.17 L454.67,287.01 L455.53,287.85 L456.39,288.69 L457.26,289.53 L458.12,290.37 L458.99,291.21 L459.85,292.04 L460.72,292.88 L461.59,293.71 L462.46,294.54 L463.33,295.37 L464.20,296.20 L465.08,297.03 L465.95,297.85 L466.83,298.67 L467.71,299.50 L468.58,300.32 L469.47,301.14 L470.35,301.96 L471.23,302.77 L472.11,303.59 L473.00,304.40" stroke="#2068D6" stroke-width="2.3" stroke-dasharray="3.7 9.935" stroke-dashoffset="1.055"/>
</g>
<g stroke="#000" stroke-width="2">
<line x1="279.6" y1="491" x2="279.6" y2="482"/>
<line x1="477.7" y1="491" x2="477.7" y2="482"/>
<line x1="81.5" y1="172.6" x2="90.5" y2="172.6"/>
<line x1="81.5" y1="331.8" x2="90.5" y2="331.8"/>
</g>
<g stroke="#000" fill="none" stroke-linecap="square">
<line x1="81.5" y1="13.3" x2="675.7" y2="13.3" stroke-width="2.9"/>
<line x1="81.5" y1="13.3" x2="81.5" y2="491" stroke-width="2.8"/>
<line x1="675.7" y1="13.3" x2="675.7" y2="491" stroke-width="2.3"/>
<line x1="81.5" y1="491" x2="675.7" y2="491" stroke-width="2.3"/>
</g>
<g font-family='"Liberation Sans", Arial, sans-serif' font-size="20.5" fill="#000" text-anchor="end">
<text x="71.6" y="19.3">1.2</text>
<text x="71.6" y="178.8">0.8</text>
<text x="71.6" y="338">0.4</text>
<text x="71.6" y="497.2">0.0</text>
</g>
<g font-family='"Liberation Sans", Arial, sans-serif' font-size="21.5" fill="#000" text-anchor="middle">
<text x="81.5" y="517.4">0</text>
<text x="279.4" y="517.4">1</text>
<text x="477.4" y="517.4">2</text>
<text x="675.4" y="517.4">3</text>
</g>
<g font-family='"Liberation Sans", Arial, sans-serif' font-size="25" fill="#000">
<text x="601.5" y="77">UT</text>
<text x="601.5" y="107.5">BT</text>
<text x="601.5" y="138.4">UC</text>
<text transform="translate(24.9,239.4) rotate(-90)" text-anchor="middle">σ(MPa)</text>
</g>
<g font-family='"Liberation Sans", Arial, sans-serif' fill="#000" transform="translate(0,557) scale(1,1.05)">
<text x="331.0" y="0" font-size="23">ε</text>
<text x="342.4" y="6.3" font-size="16">1</text>
<text x="351.5" y="0" font-size="24">(</text>
<text x="360.8" y="-0.5" font-size="21" stroke="#000" stroke-width="0.6">×</text>
<text x="374.5" y="0" font-size="24">1</text>
<text x="387.3" y="0" font-size="24">0</text>
<text x="402.6" y="-9.3" font-size="17" textLength="7.2" lengthAdjust="spacingAndGlyphs">-</text>
<text x="406.7" y="-9.6" font-size="17">4</text>
<text x="418.1" y="0" font-size="24">)</text>
</g>
<g fill="none">
<line x1="538.2" y1="68.7" x2="595.7" y2="68.7" stroke="#000" stroke-width="2.2"/>
<line x1="538.2" y1="99.2" x2="595.7" y2="99.2" stroke="#EC4046" stroke-width="2.2" stroke-dasharray="11.3 11.7"/>
<line x1="538.1" y1="129.9" x2="596" y2="129.9" stroke="#2068D6" stroke-width="2.3" stroke-dasharray="3.9 9.6"/>
</g>
</svg></body></html>
